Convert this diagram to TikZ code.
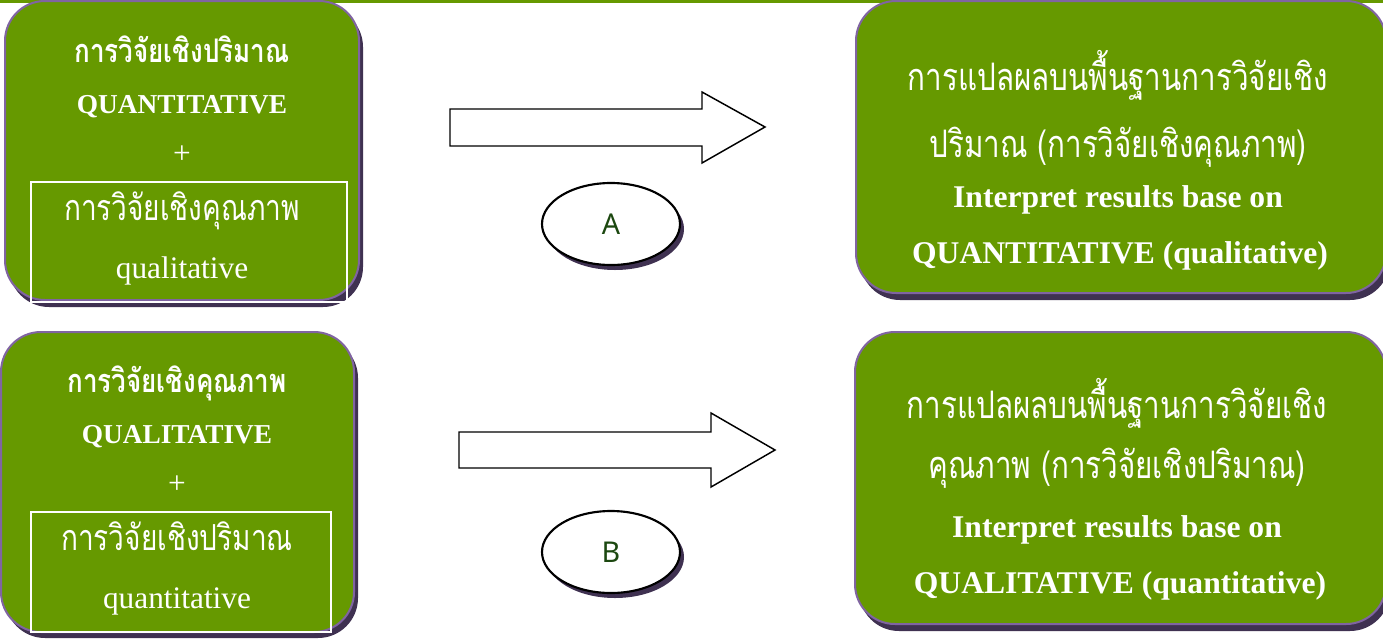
\documentclass[tikz,border=0pt]{standalone}
\usepackage{fontspec}
\setmainfont{Liberation Serif}
\newfontfamily\thai[Script=Thai]{Loma}
\newfontfamily\lbl{Noto Sans}
\usetikzlibrary{shapes.geometric}
\definecolor{boxgreen}{RGB}{102,153,0}
\definecolor{boxborder}{RGB}{128,100,162}
\definecolor{boxshadow}{RGB}{63,49,81}
\definecolor{lblgreen}{RGB}{28,72,16}
\newcommand{\thaitall}[2][1.28]{\scalebox{1}[#1]{#2}}
\tikzset{
  panel/.style={fill=boxgreen, draw=boxborder, line width=1.5pt, rounded corners=30pt},
  panelshadow/.style={fill=boxshadow, rounded corners=30pt},
  innerframe/.style={draw=white, line width=1.4pt},
  txt/.style={text=white, anchor=base, inner sep=0pt},
  blockarrow/.style={draw=black, fill=white, line width=1.1pt, line join=miter},
  oval/.style={ellipse, draw=black, fill=white, line width=1.6pt, minimum width=103.5pt, minimum height=61.5pt, inner sep=0pt, text=lblgreen, font=\lbl\fontsize{21.5}{24}\selectfont},
  thaib/.style={font=\thai\bfseries\fontsize{19.5}{23}\selectfont},
  thair/.style={font=\thai\fontsize{21}{25}\selectfont},
  latb/.style={font=\bfseries\fontsize{20.5}{24}\selectfont},
  latr/.style={font=\fontsize{23.5}{28}\selectfont},
  rthai/.style={font=\thai\fontsize{22.2}{26}\selectfont},
  rlatb/.style={font=\bfseries\fontsize{23.7}{28}\selectfont},
}
\begin{document}
\begin{tikzpicture}[x=0.75pt,y=-0.75pt]
\useasboundingbox (0,0) rectangle (1383,639);
\clip (0,0) rectangle (1383,639);
% top strip
\fill[boxgreen] (0,0) rectangle (1383,3);

% box 1
\fill[panelshadow] (9,7) rectangle (363,307);
\draw[panel] (5,1) rectangle (359,300);
\draw[innerframe] (31,182) rectangle (347,302);
\node[txt,thaib] (b1a) at (182,62) {\thaitall[1.25]{การวิจัยเชิงปริมาณ}};
\node[txt,latb] (b1b) at (182,113) {QUANTITATIVE};
\node[txt,latr] (b1c) at (182,163) {+};
\node[txt,thair] (b1d) at (182,220) {\thaitall{การวิจัยเชิงคุณภาพ}};
\node[txt,latr] (b1e) at (182,278) {qualitative};

% box 2
\fill[panelshadow] (860,7) rectangle (1390,300);
\draw[panel] (856,1) rectangle (1386,293);
\node[txt,rthai] (b2a) at (1118,90) {\thaitall{การแปลผลบนพื้นฐานการวิจัยเชิง}};
\node[txt,rthai] (b2b) at (1118,157) {\thaitall{ปริมาณ (การวิจัยเชิงคุณภาพ)}};
\node[txt,rlatb] (b2c) at (1118,207) {Interpret results base on};
\node[txt,rlatb] (b2d) at (1120,263) {QUANTITATIVE (qualitative)};

% box 3
\fill[panelshadow] (5,338) rectangle (358,638);
\draw[panel] (1,332) rectangle (354,632);
\draw[innerframe] (31,512) rectangle (331,632);
\node[txt,thaib] (b3a) at (177,392) {\thaitall[1.25]{การวิจัยเชิงคุณภาพ}};
\node[txt,latb] (b3b) at (177,443) {QUALITATIVE};
\node[txt,latr] (b3c) at (177,493) {+};
\node[txt,thair] (b3d) at (177,550) {\thaitall{การวิจัยเชิงปริมาณ}};
\node[txt,latr] (b3e) at (177,608) {quantitative};

% box 4
\fill[panelshadow] (859,338) rectangle (1390,631);
\draw[panel] (855,332) rectangle (1386,624);
\node[txt,rthai] (b4a) at (1117,418) {\thaitall{การแปลผลบนพื้นฐานการวิจัยเชิง}};
\node[txt,rthai] (b4b) at (1117,478) {\thaitall{คุณภาพ (การวิจัยเชิงปริมาณ)}};
\node[txt,rlatb] (b4c) at (1117,537) {Interpret results base on};
\node[txt,rlatb] (b4d) at (1120,593) {QUALITATIVE (quantitative)};

% block arrows
\draw[blockarrow] (450,109) -- (702,109) -- (702,92) -- (765,127) -- (702,163) -- (702,146) -- (450,146) -- cycle;
\draw[blockarrow] (459,432) -- (711,432) -- (711,413) -- (775,450) -- (711,487) -- (711,468) -- (459,468) -- cycle;

% ovals
\fill[boxshadow] (615,229) ellipse [x radius=69, y radius=41];
\node[oval] (ovA) at (611,224) {\raisebox{-5pt}{A}};
\fill[boxshadow] (615,557) ellipse [x radius=69, y radius=41];
\node[oval] (ovB) at (611,552) {\raisebox{-5pt}{B}};
\end{tikzpicture}
\end{document}
